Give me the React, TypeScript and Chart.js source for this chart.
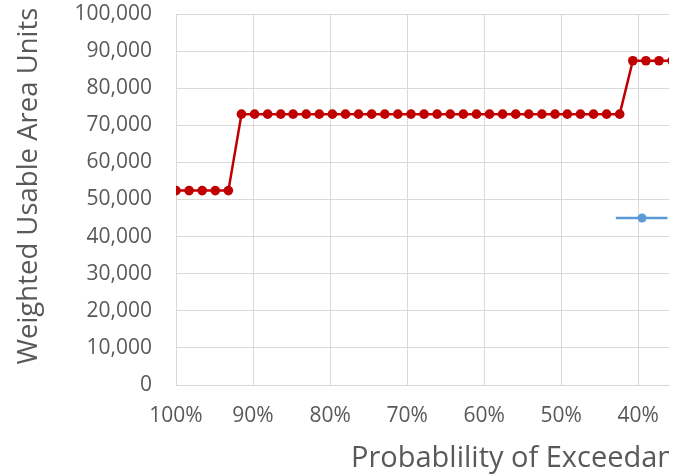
import React, { useEffect, useRef } from "react";
import { Chart, registerables } from "chart.js";

Chart.register(...registerables);

// Probability of exceedance (%) for each ranked value
const exceedance = [
  100, 98.3, 96.6, 94.9, 93.2, 91.5, 89.8, 88.1, 86.4, 84.8,
  83.1, 81.4, 79.7, 78.0, 76.3, 74.6, 72.9, 71.2, 69.5, 67.8,
  66.1, 64.4, 62.7, 61.0, 59.3, 57.6, 55.9, 54.2, 52.5, 50.8,
  49.2, 47.5, 45.8, 44.1, 42.4, 40.7, 39.0, 37.3, 35.6, 33.9,
];
// Weighted usable area units
const wuaValues = [
  52400, 52400, 52400, 52400, 52400, 73000, 73000, 73000, 73000, 73000,
  73000, 73000, 73000, 73000, 73000, 73000, 73000, 73000, 73000, 73000,
  73000, 73000, 73000, 73000, 73000, 73000, 73000, 73000, 73000, 73000,
  73000, 73000, 73000, 73000, 73000, 87400, 87400, 87400, 87400, 87400,
];
// Reference point with horizontal range
const refX = [42.9, 39.5, 36.2];
const refY = [45000, 45000, 45000];
const refRadius = [0, 4.5, 0];

// Axis tick values
const xTickValues = [100, 90, 80, 70, 60, 50, 40];

const yTitle = "Weighted Usable Area Units";
const xTitle = "Probablility of Exceedance";

const FONT = "'Open Sans', 'Liberation Sans', sans-serif";
const TEXT = "#595959";
const GRID = "#d9d9d9";

const titlePlugin = {
  id: "customTitles",
  afterDraw(chart: any) {
    const ctx = chart.ctx;
    ctx.save();
    ctx.beginPath();
    ctx.rect(0, 0, 669, 474);
    ctx.clip();
    ctx.fillStyle = TEXT;
    ctx.font = `29px ${FONT}`;
    ctx.textAlign = "left";
    ctx.textBaseline = "alphabetic";
    ctx.fillText(xTitle, 351, 467);
    ctx.font = `27.5px ${FONT}`;
    ctx.translate(37, 186);
    ctx.rotate(-Math.PI / 2);
    ctx.textAlign = "center";
    ctx.fillText(yTitle, 0, 0);
    ctx.restore();
  },
};

export default function App() {
  const ref = useRef<HTMLCanvasElement | null>(null);
  useEffect(() => {
    if (!ref.current) return;
    const chart = new Chart(ref.current, {
      type: "line",
      data: {
        datasets: [
          {
            data: exceedance.map((x, i) => ({ x, y: wuaValues[i] })),
            borderColor: "#C00000",
            backgroundColor: "#C00000",
            borderWidth: 2.5,
            pointRadius: 4.8,
            pointBorderWidth: 0,
            tension: 0,
          },
          {
            data: refX.map((x, i) => ({ x, y: refY[i] })),
            borderColor: "#5B9BD5",
            backgroundColor: "#5B9BD5",
            borderWidth: 2.5,
            pointRadius: refRadius,
            pointBorderWidth: 0,
            tension: 0,
          },
        ],
      },
      options: {
        responsive: false,
        animation: false,
        layout: { padding: { left: 0, right: 13, top: 14, bottom: 0 } },
        plugins: {
          legend: { display: false },
          tooltip: { enabled: false },
        },
        scales: {
          x: {
            type: "linear",
            reverse: true,
            min: 36,
            max: 100,
            afterBuildTicks: (s: any) => {
              s.ticks = xTickValues.map((v) => ({ value: v }));
            },
            afterFit: (s: any) => {
              s.height = 474 - 385;
            },
            ticks: {
              color: TEXT,
              font: { family: FONT, size: 21 },
              padding: 0,
              maxRotation: 0,
              autoSkip: false,
              callback: (v: any) => `${Math.round(Number(v))}%`,
            },
            grid: {
              color: GRID,
              lineWidth: 1,
              drawTicks: true,
              tickLength: 18,
              tickColor: "rgba(0,0,0,0)",
            },
            border: { color: GRID, width: 1 },
          },
          y: {
            min: 0,
            max: 100000,
            afterFit: (s: any) => {
              s.width = 176;
            },
            ticks: {
              stepSize: 10000,
              color: TEXT,
              font: { family: FONT, size: 21 },
              padding: 0,
              callback: (v: any) => Number(v).toLocaleString("en-US"),
            },
            grid: {
              color: GRID,
              lineWidth: 1,
              drawTicks: true,
              tickLength: 24,
              tickColor: "rgba(0,0,0,0)",
            },
            border: { color: GRID, width: 1 },
          },
        },
      },
      plugins: [titlePlugin],
    });
    return () => chart.destroy();
  }, []);
  return (
    <div
      style={{
        position: "fixed",
        left: 0,
        top: 0,
        width: 682,
        height: 474,
        overflow: "hidden",
        background: "#fff",
      }}
    >
      <canvas ref={ref} width={682} height={474} style={{ display: "block" }} />
    </div>
  );
}
